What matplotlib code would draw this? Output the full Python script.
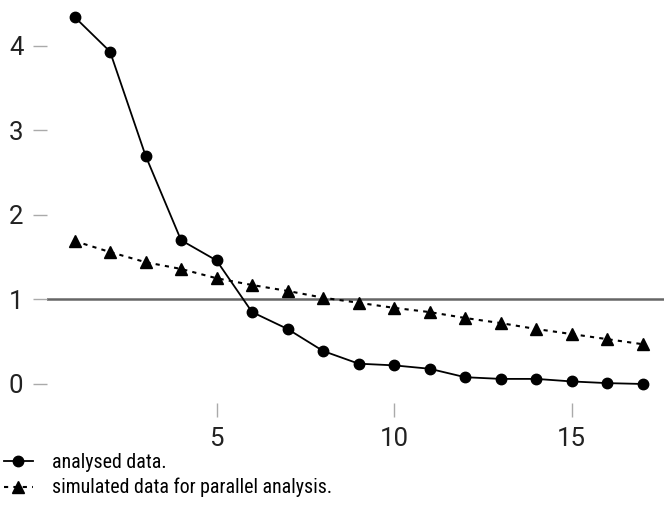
import matplotlib.pyplot as plt

# eigenvalues per factor
FACTORS = list(range(1, 18))
ANALYSED = [4.34, 3.93, 2.70, 1.70, 1.46, 0.85, 0.65, 0.39, 0.24, 0.22,
            0.18, 0.08, 0.06, 0.06, 0.03, 0.01, 0.00]
SIMULATED = [1.69, 1.56, 1.44, 1.36, 1.25, 1.17, 1.10, 1.02, 0.96, 0.90,
             0.85, 0.78, 0.72, 0.65, 0.59, 0.53, 0.47]
THRESHOLD = 1
Y_TICKS = [0, 1, 2, 3, 4]
X_TICKS = [5, 10, 15]
LABELS = ["analysed data.", "simulated data for parallel analysis."]

plt.rcParams["font.family"] = ["Roboto", "DejaVu Sans"]

fig = plt.figure(figsize=(6.64, 5.29), dpi=100)
ax = fig.add_axes([47 / 664, 126 / 529, 617 / 664, 403 / 529])

ax.axhline(THRESHOLD, color="#666666", lw=1.8, zorder=1)
ax.plot(FACTORS, ANALYSED, color="black", lw=1.3, marker="o", ms=7.5, label=LABELS[0], zorder=3)
ax.plot(FACTORS, SIMULATED, color="black", lw=1.5, ls=(0, (2, 2.5)), marker="^", ms=8.5,
        label=LABELS[1], zorder=3)

ax.set_xlim(0.225, 17.6)
ax.set_ylim(-0.225, 4.54)
ax.set_xticks(X_TICKS)
ax.set_yticks(Y_TICKS)
for s in ax.spines.values():
    s.set_visible(False)
ax.tick_params(axis="both", length=10, width=1, color="#aaaaaa", labelsize=18.5,
               labelcolor="#222222", pad=7)

fig.legend(loc="upper left", bbox_to_anchor=(4 / 664, 1 - 453 / 529), frameon=False,
           prop={"family": ["Roboto Condensed", "Liberation Sans Narrow", "Roboto"], "size": 14.3},
           handlelength=1.45, handletextpad=0.95, borderpad=0,
           borderaxespad=0, labelspacing=0.3)

fig.savefig("out.png", dpi=100)
